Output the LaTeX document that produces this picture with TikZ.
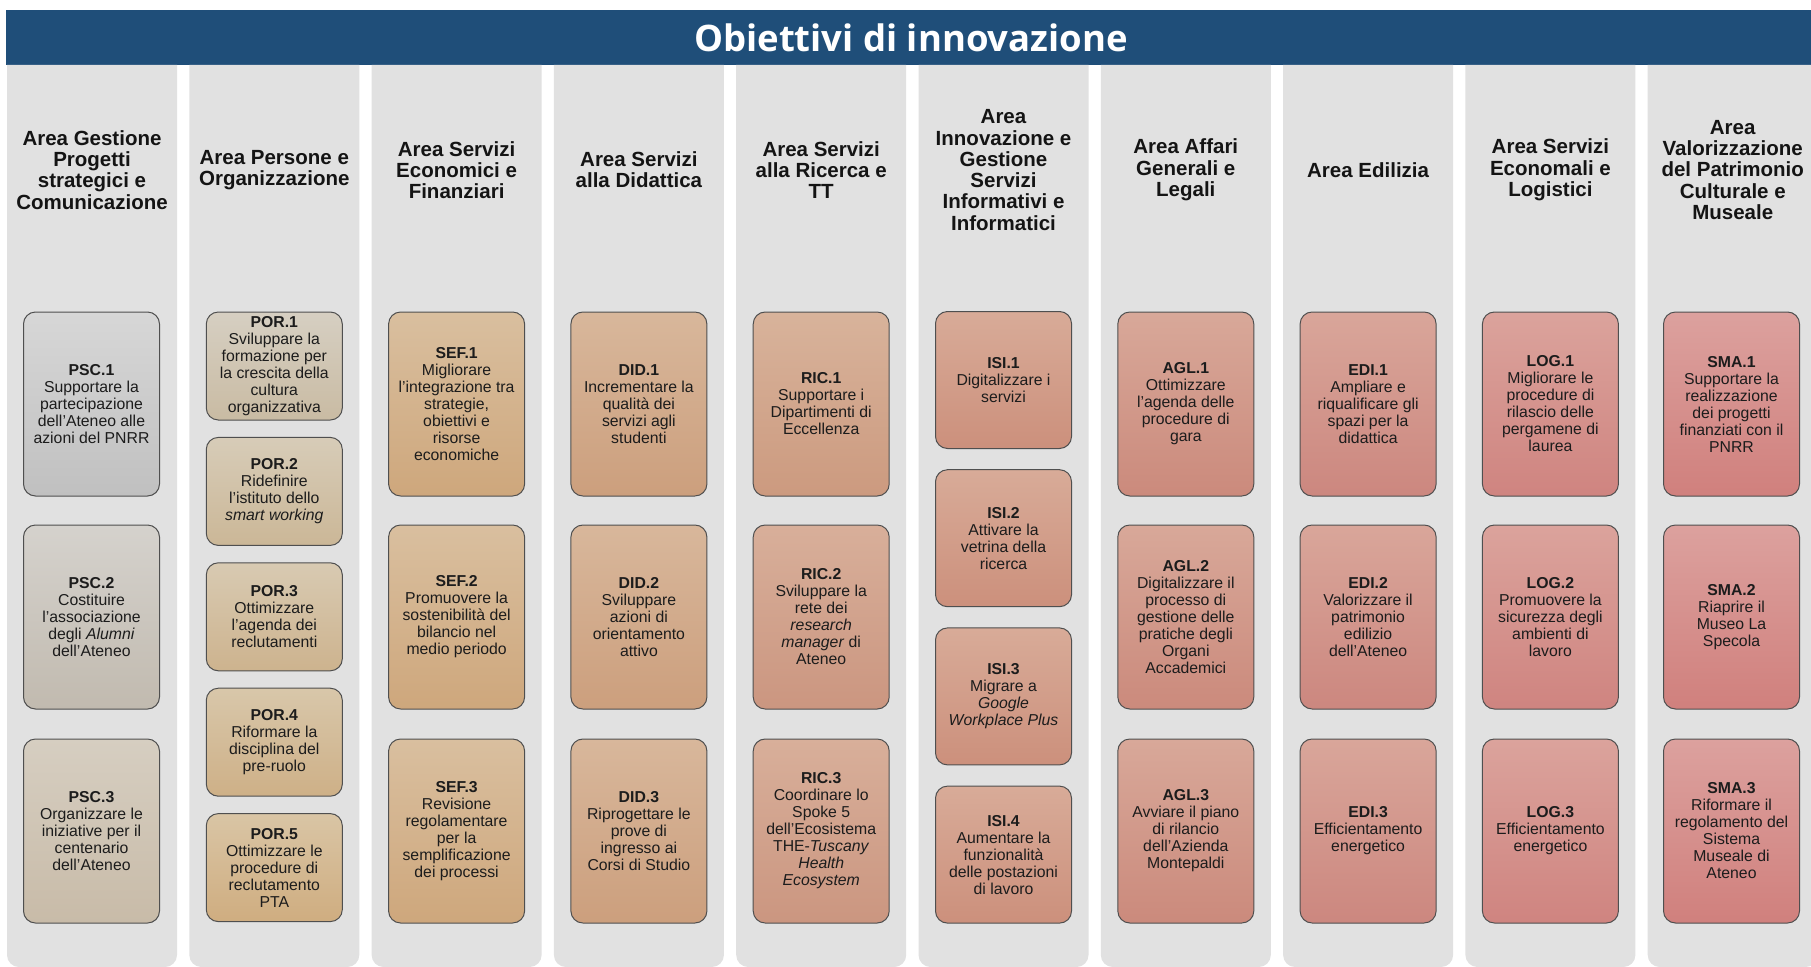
\documentclass[tikz,border=0pt]{standalone}
\usepackage{fontspec}
\setmainfont{Liberation Sans}
\newfontfamily\titlefam{Open Sans}
\definecolor{barblue}{HTML}{1F4E79}
\definecolor{colgray}{HTML}{E1E1E1}
\definecolor{boxline}{HTML}{4F4F4F}
\definecolor{bodytext}{HTML}{1C1C1C}
\definecolor{hdrtext}{HTML}{141414}
% box colours (top / bottom)
\definecolor{pscAt}{HTML}{D7D7D7}\definecolor{pscAb}{HTML}{C0C0C0}
\definecolor{pscBt}{HTML}{D5D2CD}\definecolor{pscBb}{HTML}{C1BAAF}
\definecolor{pscCt}{HTML}{D6CEC1}\definecolor{pscCb}{HTML}{C8BBA8}
\definecolor{porAt}{HTML}{D6CFC2}\definecolor{porAb}{HTML}{C9BBA3}
\definecolor{porBt}{HTML}{D7CCB8}\definecolor{porBb}{HTML}{CBB797}
\definecolor{porCt}{HTML}{D8CAB2}\definecolor{porCb}{HTML}{CDB38E}
\definecolor{porDt}{HTML}{D8C7AA}\definecolor{porDb}{HTML}{CEB087}
\definecolor{porEt}{HTML}{D9C5A5}\definecolor{porEb}{HTML}{CFAD80}
\definecolor{seft}{HTML}{D9BF9F}\definecolor{sefb}{HTML}{CEA77C}
\definecolor{didt}{HTML}{D8B79B}\definecolor{didb}{HTML}{CC9F7D}
\definecolor{ricAt}{HTML}{D8B39B}\definecolor{ricAb}{HTML}{CC9A7F}
\definecolor{ricBt}{HTML}{D8AF9A}\definecolor{ricBb}{HTML}{CB9680}
\definecolor{isit}{HTML}{D8AB98}\definecolor{isib}{HTML}{CC907C}
\definecolor{aglt}{HTML}{D8A899}\definecolor{aglb}{HTML}{CB8A7C}
\definecolor{edit}{HTML}{D9A69A}\definecolor{edib}{HTML}{CC877F}
\definecolor{logt}{HTML}{DBA39C}\definecolor{logb}{HTML}{CF8480}
\definecolor{smat}{HTML}{DCA19E}\definecolor{smab}{HTML}{D0807D}
\tikzset{
  colbg/.style={fill=colgray},
  hdr/.style={align=center, font=\bfseries\fontsize{20.5}{21.3}\selectfont, text=hdrtext, inner sep=0pt},
  obox/.style 2 args={draw=boxline, line width=1pt, rounded corners=12pt, top color=#1, bottom color=#2,
    minimum width=136pt, inner sep=0pt, align=center, text=bodytext, font=\fontsize{15.8}{17}\selectfont},
  hthree/.style={minimum height=184pt},
  hfour/.style={minimum height=137pt},
  hfive/.style={minimum height=108pt},
  titletext/.style={text=white, font=\titlefam\bfseries\fontsize{36.5}{40}\selectfont, inner sep=0pt},
}
\begin{document}
\begin{tikzpicture}[x=1pt,y=-1pt]
\useasboundingbox (0,0) rectangle (1811,966);
\clip (0,0) rectangle (1811,966);
% title bar
\node[fill=barblue, minimum width=1810pt, minimum height=55pt, inner sep=0pt, anchor=north west] (bar) at (6,10) {};
\node[titletext] (title) at (911,38) {Obiettivi di innovazione};
% columns
\foreach \k in {0,...,9}{
  \fill[colbg] ({7+182.3*\k},65) [rounded corners=12pt] -- ({7+182.3*\k},967) -- ({177+182.3*\k},967) [sharp corners] -- ({177+182.3*\k},65) -- cycle;
}
% headers
\node[hdr] (h1) at (92,170) {Area Gestione\\Progetti\\strategici e\\Comunicazione};
\node[hdr] (h2) at (274.3,170) {Area Persone e\\Organizzazione};
\node[hdr] (h3) at (456.6,170) {Area Servizi\\Economici e\\Finanziari};
\node[hdr] (h4) at (638.9,170) {Area Servizi\\alla Didattica};
\node[hdr] (h5) at (821.2,170) {Area Servizi\\alla Ricerca e\\TT};
\node[hdr] (h6) at (1003.5,170) {Area\\Innovazione e\\Gestione\\Servizi\\Informativi e\\Informatici};
\node[hdr] (h7) at (1185.8,170) {Area Affari\\Generali e\\Legali};
\node[hdr] (h8) at (1368.1,170) {Area Edilizia};
\node[hdr] (h9) at (1550.4,170) {Area Servizi\\Economali e\\Logistici};
\node[hdr] (h10) at (1732.7,170) {Area\\Valorizzazione\\del Patrimonio\\Culturale e\\Museale};
% column 1
\node[obox={pscAt}{pscAb}, hthree] (psc1) at (91.5,404) {\textbf{PSC.1}\\Supportare la\\partecipazione\\dell'Ateneo alle\\azioni del PNRR};
\node[obox={pscBt}{pscBb}, hthree] (psc2) at (91.5,617) {\textbf{PSC.2}\\Costituire\\l'associazione\\degli \textit{Alumni}\\dell'Ateneo};
\node[obox={pscCt}{pscCb}, hthree] (psc3) at (91.5,831) {\textbf{PSC.3}\\Organizzare le\\iniziative per il\\centenario\\dell'Ateneo};
% column 2
\node[obox={porAt}{porAb}, hfive] (por1) at (274.3,366) {\textbf{POR.1}\\Sviluppare la\\formazione per\\la crescita della\\cultura\\organizzativa};
\node[obox={porBt}{porBb}, hfive] (por2) at (274.3,491.4) {\textbf{POR.2}\\Ridefinire\\l'istituto dello\\\textit{smart working}};
\node[obox={porCt}{porCb}, hfive] (por3) at (274.3,616.8) {\textbf{POR.3}\\Ottimizzare\\l'agenda dei\\reclutamenti};
\node[obox={porDt}{porDb}, hfive] (por4) at (274.3,742.2) {\textbf{POR.4}\\Riformare la\\disciplina del\\pre-ruolo};
\node[obox={porEt}{porEb}, hfive] (por5) at (274.3,867.6) {\textbf{POR.5}\\Ottimizzare le\\procedure di\\reclutamento\\PTA};
% column 3
\node[obox={seft}{sefb}, hthree] (sef1) at (456.6,404) {\textbf{SEF.1}\\Migliorare\\l'integrazione tra\\strategie,\\obiettivi e\\risorse\\economiche};
\node[obox={seft}{sefb}, hthree] (sef2) at (456.6,617) {\textbf{SEF.2}\\Promuovere la\\sostenibilità del\\bilancio nel\\medio periodo};
\node[obox={seft}{sefb}, hthree] (sef3) at (456.6,831) {\textbf{SEF.3}\\Revisione\\regolamentare\\per la\\semplificazione\\dei processi};
% column 4
\node[obox={didt}{didb}, hthree] (did1) at (638.9,404) {\textbf{DID.1}\\Incrementare la\\qualità dei\\servizi agli\\studenti};
\node[obox={didt}{didb}, hthree] (did2) at (638.9,617) {\textbf{DID.2}\\Sviluppare\\azioni di\\orientamento\\attivo};
\node[obox={didt}{didb}, hthree] (did3) at (638.9,831) {\textbf{DID.3}\\Riprogettare le\\prove di\\ingresso ai\\Corsi di Studio};
% column 5
\node[obox={ricAt}{ricAb}, hthree] (ric1) at (821.2,404) {\textbf{RIC.1}\\Supportare i\\Dipartimenti di\\Eccellenza};
\node[obox={ricBt}{ricBb}, hthree] (ric2) at (821.2,617) {\textbf{RIC.2}\\Sviluppare la\\rete dei\\\textit{research}\\\textit{manager} di\\Ateneo};
\node[obox={ricBt}{ricBb}, hthree] (ric3) at (821.2,831) {\textbf{RIC.3}\\Coordinare lo\\Spoke 5\\dell'Ecosistema\\THE-\textit{Tuscany}\\\textit{Health}\\\textit{Ecosystem}};
% column 6
\node[obox={isit}{isib}, hfour] (isi1) at (1003.5,380) {\textbf{ISI.1}\\Digitalizzare i\\servizi};
\node[obox={isit}{isib}, hfour] (isi2) at (1003.5,538.2) {\textbf{ISI.2}\\Attivare la\\vetrina della\\ricerca};
\node[obox={isit}{isib}, hfour] (isi3) at (1003.5,696.4) {\textbf{ISI.3}\\Migrare a\\\textit{Google}\\\textit{Workplace Plus}};
\node[obox={isit}{isib}, hfour] (isi4) at (1003.5,854.6) {\textbf{ISI.4}\\Aumentare la\\funzionalità\\delle postazioni\\di lavoro};
% column 7
\node[obox={aglt}{aglb}, hthree] (agl1) at (1185.8,404) {\textbf{AGL.1}\\Ottimizzare\\l'agenda delle\\procedure di\\gara};
\node[obox={aglt}{aglb}, hthree] (agl2) at (1185.8,617) {\textbf{AGL.2}\\Digitalizzare il\\processo di\\gestione delle\\pratiche degli\\Organi\\Accademici};
\node[obox={aglt}{aglb}, hthree] (agl3) at (1185.8,831) {\textbf{AGL.3}\\Avviare il piano\\di rilancio\\dell'Azienda\\Montepaldi};
% column 8
\node[obox={edit}{edib}, hthree] (edi1) at (1368.1,404) {\textbf{EDI.1}\\Ampliare e\\riqualificare gli\\spazi per la\\didattica};
\node[obox={edit}{edib}, hthree] (edi2) at (1368.1,617) {\textbf{EDI.2}\\Valorizzare il\\patrimonio\\edilizio\\dell'Ateneo};
\node[obox={edit}{edib}, hthree] (edi3) at (1368.1,831) {\textbf{EDI.3}\\Efficientamento\\energetico};
% column 9
\node[obox={logt}{logb}, hthree] (log1) at (1550.4,404) {\textbf{LOG.1}\\Migliorare le\\procedure di\\rilascio delle\\pergamene di\\laurea};
\node[obox={logt}{logb}, hthree] (log2) at (1550.4,617) {\textbf{LOG.2}\\Promuovere la\\sicurezza degli\\ambienti di\\lavoro};
\node[obox={logt}{logb}, hthree] (log3) at (1550.4,831) {\textbf{LOG.3}\\Efficientamento\\energetico};
% column 10
\node[obox={smat}{smab}, hthree] (sma1) at (1731.5,404) {\textbf{SMA.1}\\Supportare la\\realizzazione\\dei progetti\\finanziati con il\\PNRR};
\node[obox={smat}{smab}, hthree] (sma2) at (1731.5,617) {\textbf{SMA.2}\\Riaprire il\\Museo La\\Specola};
\node[obox={smat}{smab}, hthree] (sma3) at (1731.5,831) {\textbf{SMA.3}\\Riformare il\\regolamento del\\Sistema\\Museale di\\Ateneo};
\end{tikzpicture}
\end{document}
